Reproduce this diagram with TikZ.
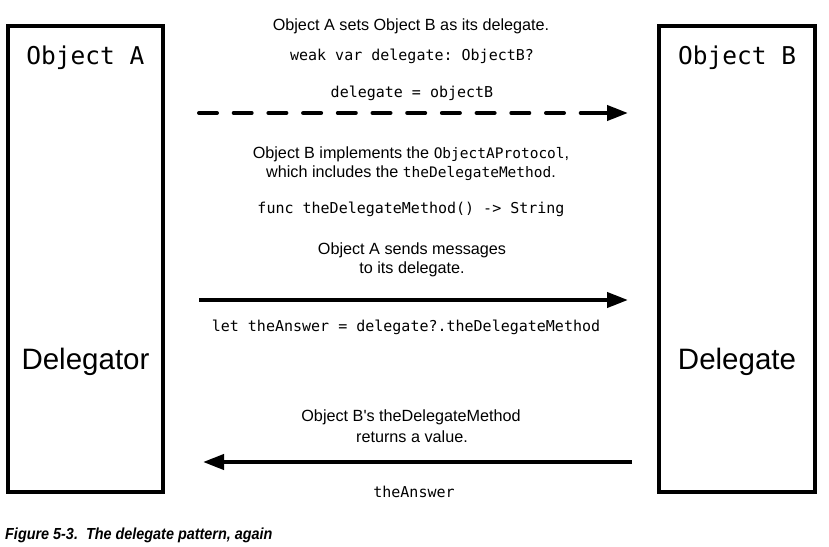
\documentclass[tikz,border=0pt]{standalone}
\usepackage{fontspec}
\setmainfont{Liberation Sans}
\setsansfont{Liberation Sans}
\setmonofont{DejaVu Sans Mono}
\newfontfamily\capfont[FakeStretch=0.9]{Liberation Sans}
\usetikzlibrary{arrows.meta}
\begin{document}
\begin{tikzpicture}[x=1pt,y=-1pt,
  objbox/.style={draw=black,line width=4pt},
  msg/.style={inner sep=0pt,anchor=base,font=\fontsize{16.2}{18}\selectfont},
  code/.style={inner sep=0pt,anchor=base,font=\fontsize{15}{18}\ttfamily},
  title/.style={inner sep=0pt,anchor=base,font=\fontsize{24.5}{28}\ttfamily},
  role/.style={inner sep=0pt,anchor=base,font=\fontsize{29.5}{32}\selectfont},
  arr/.style={line width=4pt,-{Triangle[length=21pt,width=15pt]}}
]
\useasboundingbox (0,0) rectangle (829,546);
\fill[white] (0,0) rectangle (829,546);
% boxes
\draw[objbox] (8,26) rectangle (163,492);
\draw[objbox] (659,26) rectangle (815,492);
\node[title] (ta) at (85.5,64) {Object A};
\node[title] (tb) at (737,64) {Object B};
\node[role] (ra) at (85.5,369) {Delegator};
\node[role] (rb) at (737,369) {Delegate};
% texts
\node[msg] (t1) at (411,30) {Object A sets Object B as its delegate.};
\node[code] (t2) at (412,60) {weak var delegate: ObjectB?};
\node[code] (t3) at (412,97) {delegate = objectB};
\node[msg] (t4) at (411,158) {Object B implements the {\fontsize{14.5}{18}\ttfamily ObjectAProtocol},};
\node[msg] (t5) at (411,177) {which includes the {\fontsize{14.5}{18}\ttfamily theDelegateMethod}.};
\node[code] (t6) at (411,213) {func theDelegateMethod() -> String};
\node[msg] (t7) at (412,254) {Object A sends messages};
\node[msg] (t8) at (412,273) {to its delegate.};
\node[code] (t9) at (406,331) {let theAnswer = delegate?.theDelegateMethod};
\node[msg] (t10) at (411,421) {Object B\textquotesingle s theDelegateMethod};
\node[msg] (t11) at (412,442) {returns a value.};
\node[code] (t12) at (414,497) {theAnswer};
% arrow end points
\coordinate (d1) at (199,113);
\coordinate (d2) at (628,113);
\coordinate (s1) at (199,300);
\coordinate (s2) at (628,300);
\coordinate (r1) at (632,462);
\coordinate (r2) at (203,462);
\draw[line width=4pt,line cap=round,dash pattern=on 18pt off 16.7pt] (d1) -- (600,113);
\draw[arr,shorten <=-2pt] (598,113) -- (d2);
\draw[arr] (s1) -- (s2);
\draw[arr] (r1) -- (r2);
% caption
\node[inner sep=0pt,anchor=base west,font=\capfont\fontsize{16}{18}\bfseries\itshape] (cap) at (5,539) {Figure 5-3.\ \ The delegate pattern, again};
\end{tikzpicture}
\end{document}
